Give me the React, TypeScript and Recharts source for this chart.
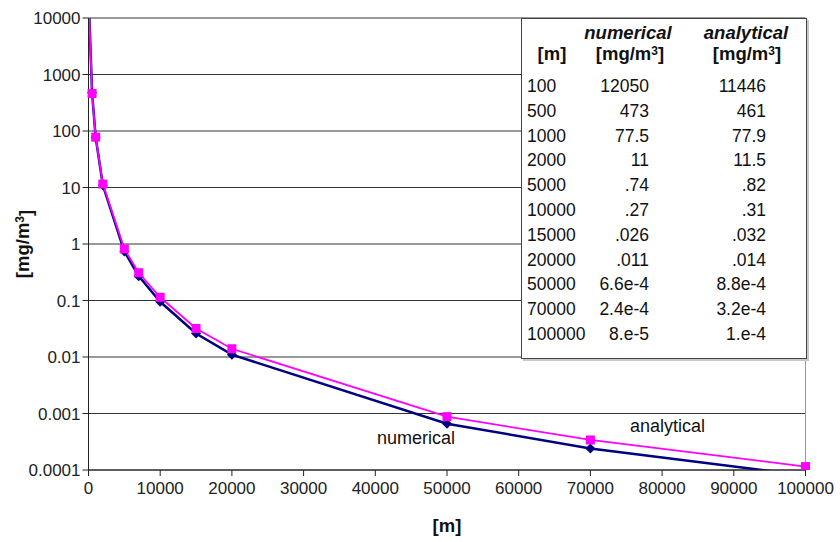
import React from 'react';
import { LineChart, Line, XAxis, YAxis, CartesianGrid, ReferenceLine } from 'recharts';

// distances [m] and concentrations [mg/m3] as plotted
const distances = [100, 500, 1000, 2000, 5000, 7000, 10000, 15000, 20000, 50000, 70000, 100000];
const numerical = [12050, 473, 77.5, 11, 0.74, 0.27, 0.095, 0.026, 0.011, 6.6e-4, 2.4e-4, 8e-5];
const analytical = [11446, 461, 77.9, 11.5, 0.82, 0.31, 0.114, 0.032, 0.014, 8.8e-4, 3.4e-4, 1.15e-4];

const xTicks = [0, 10000, 20000, 30000, 40000, 50000, 60000, 70000, 80000, 90000, 100000];
const yTicks = [0.0001, 0.001, 0.01, 0.1, 1, 10, 100, 1000, 10000];

// inset table, as printed
const tableDistances = ['100', '500', '1000', '2000', '5000', '10000', '15000', '20000', '50000', '70000', '100000'];
const tableNumerical = ['12050', '473', '77.5', '11', '.74', '.27', '.026', '.011', '6.6e-4', '2.4e-4', '8.e-5'];
const tableAnalytical = ['11446', '461', '77.9', '11.5', '.82', '.31', '.032', '.014', '8.8e-4', '3.2e-4', '1.e-4'];

const Y_MIN = 0.0001;
const Y_MAX = 10000;
const FONT = '"Liberation Sans", Arial, sans-serif';

const data = distances.map((d, i) => ({ distance: d, numerical: numerical[i], analytical: analytical[i] }));

const inRange = (v: number) => v >= Y_MIN && v <= Y_MAX;

const DiamondDot = (props: any) => {
  const { cx, cy, payload, index } = props;
  if (!inRange(payload.numerical)) return <g key={`nd-${index}`} />;
  const r = 5;
  return (
    <path
      key={`nd-${index}`}
      d={`M${cx},${cy - r} L${cx + r},${cy} L${cx},${cy + r} L${cx - r},${cy} Z`}
      fill="#000080"
    />
  );
};

const SquareDot = (props: any) => {
  const { cx, cy, payload, index } = props;
  if (!inRange(payload.analytical)) return <g key={`ad-${index}`} />;
  return <rect key={`ad-${index}`} x={cx - 4.5} y={cy - 4.5} width={9} height={9} fill="#ff00ff" />;
};

const YTitle = () => {
  const x = 29;
  const y = 244;
  return (
    <text
      x={x}
      y={y}
      transform={`rotate(-90, ${x}, ${y})`}
      textAnchor="middle"
      fontFamily={FONT}
      fontWeight="bold"
      fontSize={18.5}
      fill="#111"
    >
      [mg/m<tspan dy="-0.45em" fontSize={12}>3</tspan>
      <tspan dy="0.45em">]</tspan>
    </text>
  );
};

const XTitle = (props: any) => {
  const { viewBox } = props;
  const cx = viewBox.x + viewBox.width / 2;
  return (
    <text x={cx} y={viewBox.y + viewBox.height + 32} textAnchor="middle" fontFamily={FONT} fontWeight="bold" fontSize={18.5} fill="#111">
      [m]
    </text>
  );
};

const MgHeader = () => (
  <span>
    [mg/m<sup style={{ fontSize: 12, verticalAlign: 'top', lineHeight: '14px' }}>3</sup>]
  </span>
);

const InsetTable = () => {
  const rowCenter = (i: number) => 67 + i * 24.8;
  const cell: React.CSSProperties = { position: 'absolute', fontSize: 17.5, lineHeight: '20px', whiteSpace: 'nowrap' };
  const head: React.CSSProperties = { ...cell, fontWeight: 'bold', fontSize: 18.5, transform: 'translateX(-50%)' };
  return (
    <div
      style={{
        position: 'absolute',
        left: 521,
        top: 18,
        width: 286,
        height: 341,
        boxSizing: 'border-box',
        border: '1px solid #444',
        background: '#fff',
        boxShadow: '2px 2px 0 #c8c8c8',
        color: '#111',
        fontFamily: FONT,
      }}
    >
      <div style={{ ...head, left: 106, top: 4, fontStyle: 'italic' }}>numerical</div>
      <div style={{ ...head, left: 224, top: 4, fontStyle: 'italic' }}>analytical</div>
      <div style={{ ...head, left: 30, top: 25 }}>[m]</div>
      <div style={{ ...head, left: 108, top: 25 }}>
        <MgHeader />
      </div>
      <div style={{ ...head, left: 225, top: 25 }}>
        <MgHeader />
      </div>
      {tableDistances.map((d, i) => (
        <React.Fragment key={d}>
          <div style={{ ...cell, left: 5, top: rowCenter(i) - 10 }}>{d}</div>
          <div style={{ ...cell, right: 286 - 129, top: rowCenter(i) - 10 }}>{tableNumerical[i]}</div>
          <div style={{ ...cell, right: 286 - 246, top: rowCenter(i) - 10 }}>{tableAnalytical[i]}</div>
        </React.Fragment>
      ))}
    </div>
  );
};

const App = () => {
  return (
    <div style={{ position: 'absolute', left: 0, top: 0, width: 840, height: 542, background: '#fff', fontFamily: FONT }}>
      <LineChart width={840} height={542} data={data} margin={{ top: 18, right: 34.5, bottom: 42, left: 0 }}>
        <CartesianGrid vertical={false} stroke="#333" strokeWidth={1} />
        <XAxis
          dataKey="distance"
          type="number"
          domain={[0, 100000]}
          ticks={xTicks}
          interval={0}
          height={30}
          tickSize={6}
          tickMargin={6}
          stroke="#222"
          tick={{ fill: '#222', fontSize: 17, fontFamily: FONT }}
          label={<XTitle />}
        />
        <YAxis
          scale="log"
          type="number"
          domain={[Y_MIN, Y_MAX]}
          allowDataOverflow
          ticks={yTicks}
          interval={0}
          width={88.5}
          tickSize={6}
          tickMargin={2}
          stroke="#222"
          tickFormatter={(v: number) => String(v)}
          tick={{ fill: '#222', fontSize: 17, fontFamily: FONT }}
          label={<YTitle />}
        />
        <ReferenceLine x={100000} stroke="#999" strokeWidth={1} />
        <Line
          type="linear"
          dataKey="numerical"
          stroke="#000080"
          strokeWidth={2.5}
          dot={DiamondDot}
          activeDot={false}
          isAnimationActive={false}
        />
        <Line
          type="linear"
          dataKey="analytical"
          stroke="#ff00ff"
          strokeWidth={1.8}
          dot={SquareDot}
          activeDot={false}
          isAnimationActive={false}
        />
      </LineChart>
      <InsetTable />
      <div style={{ position: 'absolute', left: 377, top: 427, fontSize: 18, lineHeight: '22px', color: '#111' }}>numerical</div>
      <div style={{ position: 'absolute', left: 630, top: 415, fontSize: 18, lineHeight: '22px', color: '#111' }}>analytical</div>
    </div>
  );
};

export default App;
